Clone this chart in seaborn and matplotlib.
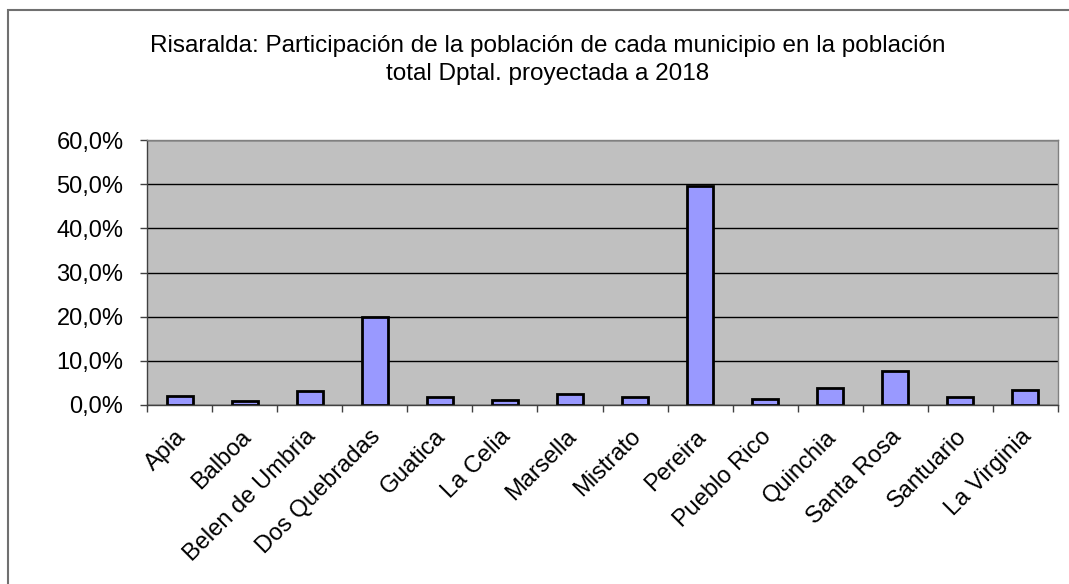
import matplotlib
matplotlib.use("Agg")
import matplotlib.pyplot as plt
import matplotlib.transforms as mtransforms
import seaborn as sns
import pandas as pd
import numpy as np
from matplotlib.ticker import FixedLocator, FuncFormatter
from matplotlib.patches import Rectangle

municipios = ["Apia", "Balboa", "Belen de Umbria", "Dos Quebradas", "Guatica",
              "La Celia", "Marsella", "Mistrato", "Pereira", "Pueblo Rico",
              "Quinchia", "Santa Rosa", "Santuario", "La Virginia"]
participacion = [2.0, 0.8, 3.2, 20.0, 1.9, 1.05, 2.5, 1.7, 49.6, 1.35,
                 3.8, 7.8, 1.8, 3.5]
y_ticks = [0, 10, 20, 30, 40, 50, 60]
title = "Risaralda: Participación de la población de cada municipio en la población\ntotal Dptal. proyectada a 2018"

df = pd.DataFrame({"municipio": municipios, "pct": participacion})

sns.set_theme(style="white")
plt.rcParams['font.family'] = ['Liberation Sans', 'DejaVu Sans']
plt.rcParams['text.color'] = 'black'
plt.rcParams['xtick.labelcolor'] = 'black'
plt.rcParams['ytick.labelcolor'] = 'black'

fig = plt.figure(figsize=(10.69, 5.84), dpi=100)
ax = fig.add_axes([147/1069, 1-405/584, (1058-147)/1069, (405-140)/584])
ax.set_facecolor("#C0C0C0")
ax.set_axisbelow(True)

sns.barplot(data=df, x="municipio", y="pct", ax=ax, color="#9999FF",
            saturation=1, width=0.4, edgecolor="black", linewidth=2)

ax.set_ylim(0, 60)
ax.set_xlim(-0.5, len(municipios) - 0.5)
ax.yaxis.set_major_locator(FixedLocator(y_ticks))
ax.yaxis.set_major_formatter(FuncFormatter(lambda v, p: f"{v:.1f}%".replace(".", ",")))
ax.grid(axis="y", color="black", linewidth=1)
ax.grid(axis="x", visible=False)

ax.set_xticks(range(len(municipios)))
ax.set_xticklabels(municipios, rotation=45, ha="right", va="top",
                   rotation_mode="anchor", fontsize=17, color="black")
ax.tick_params(axis="x", which="major", length=0, pad=15)
offset = mtransforms.ScaledTranslation(-5/100, 0, fig.dpi_scale_trans)
for lbl in ax.get_xticklabels():
    lbl.set_transform(lbl.get_transform() + offset)
ax.set_xticks(np.arange(-0.5, len(municipios), 1), minor=True)
ax.tick_params(axis="x", which="minor", length=5, width=1, color="#404040", bottom=True)
ax.tick_params(axis="y", labelsize=17, length=5, width=1, color="#404040", left=True,
               pad=12, labelcolor="black")

for s in ["left", "bottom"]:
    ax.spines[s].set_color("#404040")
    ax.spines[s].set_linewidth(1)
for s in ["top", "right"]:
    ax.spines[s].set_color("#808080")
    ax.spines[s].set_linewidth(1)
    ax.spines[s].set_visible(True)

ax.set_xlabel("")
ax.set_ylabel("")

fig.text(548/1069, 1-60/584, title, ha="center", va="center", fontsize=17.5,
         linespacing=1.35, color="black")

fig.patches.append(Rectangle((8/1069, -0.1), 1.2, 1 - 10/584 + 0.1,
                             transform=fig.transFigure, fill=False,
                             edgecolor="#707070", linewidth=1.5))

fig.savefig("out.png", dpi=100)
